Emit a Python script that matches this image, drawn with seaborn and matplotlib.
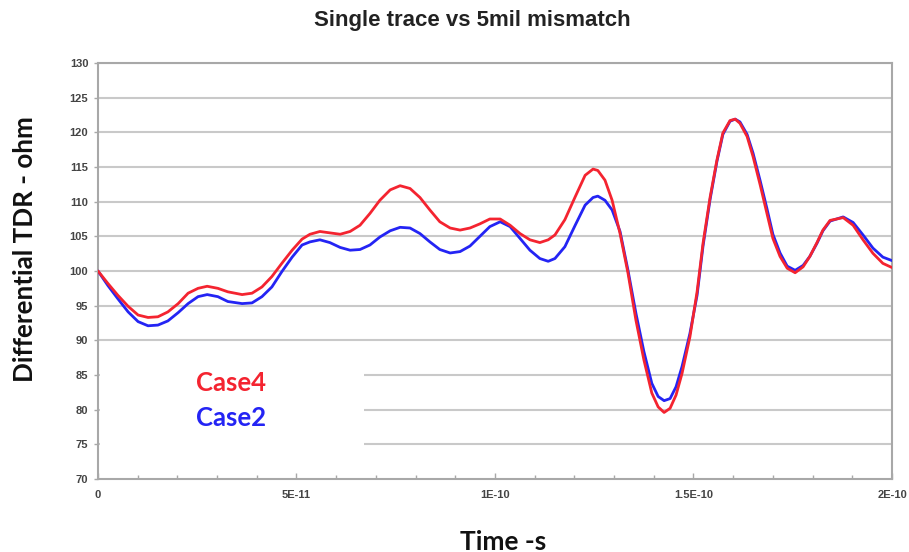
import numpy as np
import pandas as pd
import matplotlib
matplotlib.use("Agg")
import matplotlib.pyplot as plt
from matplotlib.patches import Rectangle
from matplotlib.ticker import FixedLocator, MultipleLocator
import seaborn as sns

# Time samples in picoseconds
time_ps = [0, 2.5, 5.0, 7.6, 10.1, 12.6, 15.1, 17.6, 20.2, 22.7, 25.2, 27.5, 30.2, 32.7,
           36.3, 38.8, 41.3, 43.8, 46.3, 48.9, 51.4, 53.4, 55.9, 58.4, 61.0, 63.5, 66.0,
           68.5, 71.0, 73.6, 76.1, 78.6, 81.1, 83.6, 86.1, 88.7, 91.2, 93.7, 96.2, 98.7,
           101.3, 103.8, 106.3, 108.8, 111.3, 113.4, 115.1, 117.6, 120.2, 122.7, 124.7,
           125.9, 127.7, 129.5, 131.5, 133.5, 135.5, 137.5, 139.5, 141.1, 142.6, 144.1,
           145.6, 147.1, 149.1, 150.9, 152.4, 154.2, 155.9, 157.4, 159.2, 160.5, 161.7,
           163.5, 165.0, 166.8, 168.5, 170.0, 171.8, 173.6, 175.6, 177.6, 179.3, 181.1,
           182.6, 184.4, 187.7, 190.2, 192.7, 195.2, 197.7, 200.0]

# Differential impedance (ohm)
case4 = [100, 98.2, 96.5, 94.9, 93.65, 93.3, 93.4, 94.1, 95.3, 96.8, 97.5, 97.8, 97.5, 97.0,
         96.6, 96.8, 97.7, 99.2, 101.1, 103.0, 104.6, 105.3, 105.7, 105.5, 105.3, 105.7, 106.6,
         108.3, 110.2, 111.7, 112.3, 111.9, 110.6, 108.8, 107.1, 106.2, 105.9, 106.2, 106.8, 107.5,
         107.5, 106.6, 105.4, 104.5, 104.1, 104.5, 105.2, 107.4, 110.7, 113.8, 114.7,
         114.5, 113.1, 110.2, 105.4, 99.7, 92.9, 87.2, 82.4, 80.4, 79.6, 80.2,
         82.1, 85.2, 90.5, 97.0, 104.0, 110.7, 116.0, 119.9, 121.7, 121.9, 121.3,
         119.4, 116.5, 112.4, 108.3, 104.7, 102.1, 100.4, 99.75, 100.6, 102.1, 104.1,
         105.9, 107.3, 107.7, 106.6, 104.5, 102.55, 101.1, 100.5]

case2 = [100, 97.9, 96.0, 94.1, 92.7, 92.1, 92.2, 92.8, 94.0, 95.3, 96.3, 96.6, 96.3, 95.6,
         95.3, 95.4, 96.3, 97.7, 99.9, 102.0, 103.75, 104.2, 104.5, 104.1, 103.4, 103.0, 103.1,
         103.75, 104.9, 105.8, 106.3, 106.2, 105.4, 104.2, 103.1, 102.6, 102.8, 103.6, 105.0, 106.4,
         107.1, 106.4, 104.7, 103.0, 101.8, 101.4, 101.8, 103.5, 106.6, 109.5, 110.6,
         110.8, 110.2, 108.8, 105.7, 100.1, 93.9, 88.4, 83.8, 81.9, 81.3, 81.6,
         83.3, 86.2, 91.0, 96.5, 103.6, 110.4, 115.8, 119.7, 121.6, 121.9, 121.5,
         119.7, 117.0, 113.0, 109.0, 105.3, 102.6, 100.7, 100.1, 100.8, 102.1, 104.0,
         105.8, 107.2, 107.8, 107.0, 105.2, 103.3, 102.0, 101.5]

series_names = ["Case2", "Case4"]
series_colors = {"Case2": "#2424f4", "Case4": "#f42430"}

x_ticks = [0, 5e-11, 1e-10, 1.5e-10, 2e-10]
x_tick_labels = ["0", "5E-11", "1E-10", "1.5E-10", "2E-10"]
y_ticks = list(range(70, 131, 5))

t_sec = np.array(time_ps) * 1e-12
df = pd.concat([
    pd.DataFrame({"time": t_sec, "ohm": case2, "case": "Case2"}),
    pd.DataFrame({"time": t_sec, "ohm": case4, "case": "Case4"}),
], ignore_index=True)

sns.set_style("white")
plt.rcParams["font.family"] = ["Liberation Sans", "DejaVu Sans"]

fig = plt.figure(figsize=(9.09, 5.52), dpi=100)
ax = fig.add_axes([0.1078, 0.1322, 0.8735, 0.7537])

sns.lineplot(data=df, x="time", y="ohm", hue="case", hue_order=series_names,
             palette=series_colors, linewidth=2.0, legend=False, ax=ax, sort=False,
             estimator=None)
for ln in ax.get_lines():
    ln.set_solid_joinstyle("round")
    ln.set_solid_capstyle("round")
    ln.set_zorder(4)

ax.set_xlim(0, 2e-10)
ax.set_ylim(70, 130)

# Grid
grid_col = "#c9c9c9"
for v in y_ticks[1:]:
    ax.axhline(v, color=grid_col, linewidth=1.5, zorder=0)

# Blank panel behind the series labels
ax.add_patch(Rectangle((0.4e-12, 71.0), 66.6e-12, 17.0, facecolor="white",
                       edgecolor="none", zorder=1))

for s in ax.spines.values():
    s.set_color("#a8a8a8")
    s.set_linewidth(1.5)
    s.set_visible(True)

ax.yaxis.set_major_locator(FixedLocator(y_ticks))
ax.set_yticklabels([str(v) for v in y_ticks])
ax.xaxis.set_major_locator(FixedLocator(x_ticks))
ax.set_xticklabels(x_tick_labels)
ax.xaxis.set_minor_locator(MultipleLocator(1e-11))

ax.tick_params(axis="y", which="major", direction="out", length=3, width=1,
               color="#a8a8a8", labelsize=8, labelcolor="#444444", pad=4, left=True)
ax.tick_params(axis="x", which="major", direction="in", length=4, width=1,
               color="#a8a8a8", labelsize=8, labelcolor="#444444", pad=8, bottom=True)
ax.tick_params(axis="x", which="minor", direction="in", length=3, width=1,
               color="#a8a8a8", bottom=True)
for lbl in ax.get_xticklabels() + ax.get_yticklabels():
    lbl.set_fontweight("bold")

ax.set_xlabel("")
ax.set_ylabel("")

fig.text(0.520, 0.952, "Single trace vs 5mil mismatch", ha="center", va="baseline",
         fontsize=16, fontweight="bold", color="#222222")
fig.text(0.0363, 0.548, "Differential TDR - ohm", rotation=90, rotation_mode="anchor",
         ha="center", va="baseline", fontsize=18.7, fontweight="bold", color="#111111",
         family=["Lato", "DejaVu Sans"])
fig.text(0.553, 0.004, "Time -s", ha="center", va="baseline",
         fontsize=19, fontweight="bold", color="#111111", family=["Lato", "DejaVu Sans"])

ax.text(24.8e-12, 82.73, "Case4", color=series_colors["Case4"], fontsize=18.5,
        fontweight="bold", family=["Lato", "DejaVu Sans"], va="baseline", ha="left", zorder=3)
ax.text(24.8e-12, 77.69, "Case2", color=series_colors["Case2"], fontsize=18.5,
        fontweight="bold", family=["Lato", "DejaVu Sans"], va="baseline", ha="left", zorder=3)

fig.savefig("out.png", dpi=100, facecolor="white")
